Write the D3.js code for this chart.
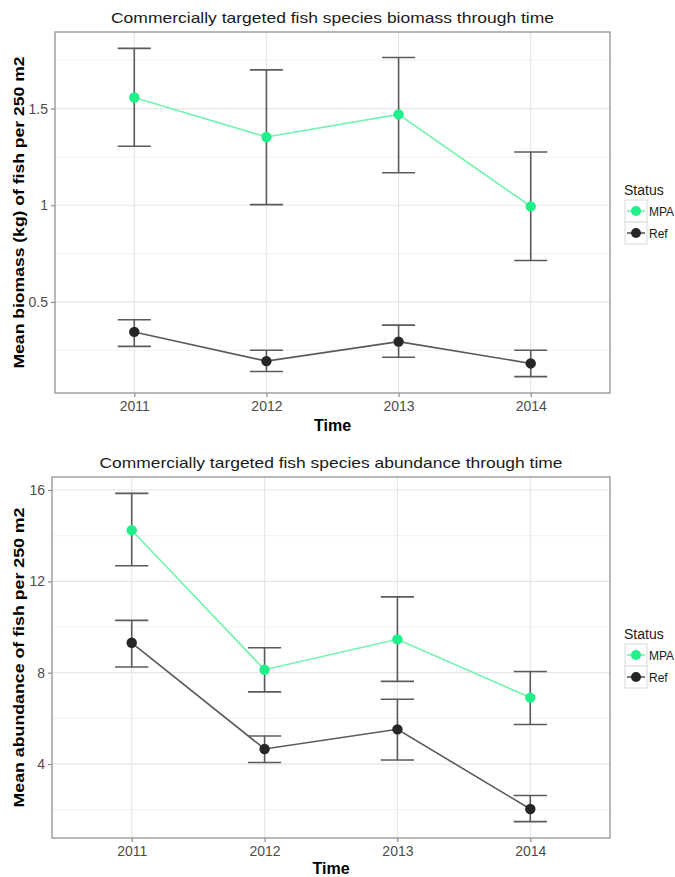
<!DOCTYPE html>
<html><head><meta charset="utf-8">
<script src="https://cdn.jsdelivr.net/npm/d3@7"></script>
<style>
html,body{margin:0;padding:0;background:#fff;}
svg{display:block;font-family:"Liberation Sans",Arial,sans-serif;}
</style></head>
<body><svg id="chart" width="675" height="877"></svg>
<script>
// ---- data ----
const years = ["2011", "2012", "2013", "2014"];
const statuses = ["MPA", "Ref"];

const biomassMPA      = [1.557, 1.353, 1.470, 0.994];
const biomassMPALow   = [1.305, 1.003, 1.168, 0.714];
const biomassMPAHigh  = [1.811, 1.700, 1.764, 1.275];
const biomassRef      = [0.345, 0.194, 0.295, 0.182];
const biomassRefLow   = [0.270, 0.140, 0.214, 0.114];
const biomassRefHigh  = [0.408, 0.250, 0.380, 0.250];

const abundMPA        = [14.24, 8.13, 9.46, 6.91];
const abundMPALow     = [12.68, 7.16, 7.62, 5.73];
const abundMPAHigh    = [15.85, 9.09, 11.32, 8.05];
const abundRef        = [9.31, 4.66, 5.52, 2.03];
const abundRefLow     = [8.25, 4.07, 4.18, 1.48];
const abundRefHigh    = [10.29, 5.23, 6.84, 2.62];

const biomassTicks = [0.5, 1, 1.5];
const biomassTickLabels = ["0.5", "1", "1.5"];
const biomassMinor = [0.25, 0.75, 1.25, 1.75];
const abundTicks = [4, 8, 12, 16];
const abundTickLabels = ["4", "8", "12", "16"];
const abundMinor = [2, 6, 10, 14];

const titles = ["Commercially targeted fish species biomass through time",
                "Commercially targeted fish species abundance through time"];
const yTitles = ["Mean biomass (kg) of fish per 250 m2",
                 "Mean abundance of fish per 250 m2"];
const xTitle = "Time";
const legendTitle = "Status";

// ---- styling ----
const colors = {MPA: "#1ff08a", Ref: "#262626"};
const lineColors = {MPA: "#6ff5ad", Ref: "#5a5a5a"};

const svg = d3.select("#chart");

function panel(cfg) {
  const {left, right, top, bottom, series, ticks, tickLabels, minor, title, yTitle} = cfg;
  const g = svg.append("g");
  // y domain with 5% expansion
  const all = series.flatMap(s => s.low.concat(s.high));
  const mn = d3.min(all), mx = d3.max(all), pad = (mx - mn) * 0.05;
  const y = d3.scaleLinear().domain([mn - pad, mx + pad]).range([bottom, top]);
  const x = d3.scalePoint().domain(years).range([left, right]).padding(0.6);

  // grid
  g.selectAll(".minor").data(minor).join("line")
    .attr("x1", left).attr("x2", right)
    .attr("y1", d => y(d)).attr("y2", d => y(d))
    .attr("stroke", "#f4f4f4").attr("stroke-width", 1.2);
  g.selectAll(".major").data(ticks).join("line")
    .attr("x1", left).attr("x2", right)
    .attr("y1", d => y(d)).attr("y2", d => y(d))
    .attr("stroke", "#e6e6e6").attr("stroke-width", 1.2);
  g.selectAll(".vmajor").data(years).join("line")
    .attr("x1", d => x(d)).attr("x2", d => x(d))
    .attr("y1", top).attr("y2", bottom)
    .attr("stroke", "#e6e6e6").attr("stroke-width", 1.2);

  // axes
  const yAxis = g.append("g").attr("transform", `translate(${left},0)`)
    .call(d3.axisLeft(y).tickValues(ticks).tickFormat((d, i) => tickLabels[i]).tickSize(4).tickPadding(3));
  const xAxis = g.append("g").attr("transform", `translate(0,${bottom})`)
    .call(d3.axisBottom(x).tickSize(4).tickPadding(4));
  [yAxis, xAxis].forEach(a => {
    a.select(".domain").remove();
    a.selectAll(".tick line").attr("stroke", "#8a8a8a").attr("stroke-width", 1.2);
    a.selectAll(".tick text").attr("fill", "#4d4d4d").style("font-size", "14px")
      .style("font-family", "'Liberation Sans', Arial, sans-serif");
  });

  // error bars
  const capW = x.step() * 0.25;
  series.forEach(s => {
    const eg = g.append("g");
    years.forEach((yr, i) => {
      const cx = x(yr);
      eg.append("line").attr("x1", cx).attr("x2", cx)
        .attr("y1", y(s.low[i])).attr("y2", y(s.high[i]))
        .attr("stroke", "#5b5b5b").attr("stroke-width", 1.6);
      [s.low[i], s.high[i]].forEach(v => {
        eg.append("line").attr("x1", cx - capW / 2).attr("x2", cx + capW / 2)
          .attr("y1", y(v)).attr("y2", y(v))
          .attr("stroke", "#5b5b5b").attr("stroke-width", 1.6);
      });
    });
  });
  // lines and points
  series.forEach(s => {
    const line = d3.line().x((d, i) => x(years[i])).y(d => y(d));
    g.append("path").attr("d", line(s.mean)).attr("fill", "none")
      .attr("stroke", lineColors[s.name]).attr("stroke-width", 1.6);
  });
  series.forEach(s => {
    g.selectAll(null).data(s.mean).join("circle")
      .attr("cx", (d, i) => x(years[i])).attr("cy", d => y(d))
      .attr("r", 5.2).attr("fill", colors[s.name]);
  });

  // panel border
  g.append("rect").attr("x", left).attr("y", top)
    .attr("width", right - left).attr("height", bottom - top)
    .attr("fill", "none").attr("stroke", "#9a9a9a").attr("stroke-width", 1.4);

  // titles
  g.append("text").attr("x", (left + right) / 2).attr("y", top - 9)
    .attr("text-anchor", "middle").style("font-size", "15px").attr("fill", "#1a1a1a")
    .attr("textLength", cfg.titleLen).attr("lengthAdjust", "spacingAndGlyphs")
    .text(title);
  g.append("text").attr("transform", `translate(${cfg.yTitleX},${(top + bottom) / 2}) rotate(-90)`)
    .attr("text-anchor", "middle").style("font-size", "15px").style("font-weight", "bold")
    .attr("textLength", cfg.yTitleLen).attr("lengthAdjust", "spacingAndGlyphs")
    .text(yTitle);
  g.append("text").attr("x", (left + right) / 2).attr("y", cfg.xTitleY)
    .attr("text-anchor", "middle").style("font-size", "16px").style("font-weight", "bold")
    .text(xTitle);

  // legend
  const lg = g.append("g");
  lg.append("text").attr("x", 624).attr("y", cfg.legendY).style("font-size", "14px")
    .attr("fill", "#1a1a1a").text(legendTitle);
  statuses.forEach((st, i) => {
    const ky = cfg.legendY + 5 + i * 22;
    lg.append("rect").attr("x", 625).attr("y", ky).attr("width", 22).attr("height", 22)
      .attr("fill", "#fff").attr("stroke", "#d9d9d9").attr("stroke-width", 1);
    lg.append("line").attr("x1", 627).attr("x2", 645).attr("y1", ky + 11).attr("y2", ky + 11)
      .attr("stroke", lineColors[st]).attr("stroke-width", 1.6);
    lg.append("line").attr("x1", 636).attr("x2", 636).attr("y1", ky + 7).attr("y2", ky + 15)
      .attr("stroke", st === "MPA" ? "#9ff5c6" : "#333").attr("stroke-width", 1.2);
    lg.append("circle").attr("cx", 636).attr("cy", ky + 11).attr("r", 5)
      .attr("fill", colors[st]);
    lg.append("text").attr("x", 649).attr("y", ky + 15.5).style("font-size", "12px")
      .attr("fill", "#1a1a1a").text(st);
  });
}

panel({
  left: 55, right: 610, top: 32, bottom: 393,
  series: [
    {name: "MPA", mean: biomassMPA, low: biomassMPALow, high: biomassMPAHigh},
    {name: "Ref", mean: biomassRef, low: biomassRefLow, high: biomassRefHigh}
  ],
  ticks: biomassTicks, tickLabels: biomassTickLabels, minor: biomassMinor,
  title: titles[0], yTitle: yTitles[0], titleLen: 443, yTitleLen: 312,
  yTitleX: 24, xTitleY: 431, legendY: 195
});
panel({
  left: 52, right: 610, top: 477, bottom: 838,
  series: [
    {name: "MPA", mean: abundMPA, low: abundMPALow, high: abundMPAHigh},
    {name: "Ref", mean: abundRef, low: abundRefLow, high: abundRefHigh}
  ],
  ticks: abundTicks, tickLabels: abundTickLabels, minor: abundMinor,
  title: titles[1], yTitle: yTitles[1], titleLen: 463, yTitleLen: 300,
  yTitleX: 24, xTitleY: 874, legendY: 639
});
</script>
</body></html>
